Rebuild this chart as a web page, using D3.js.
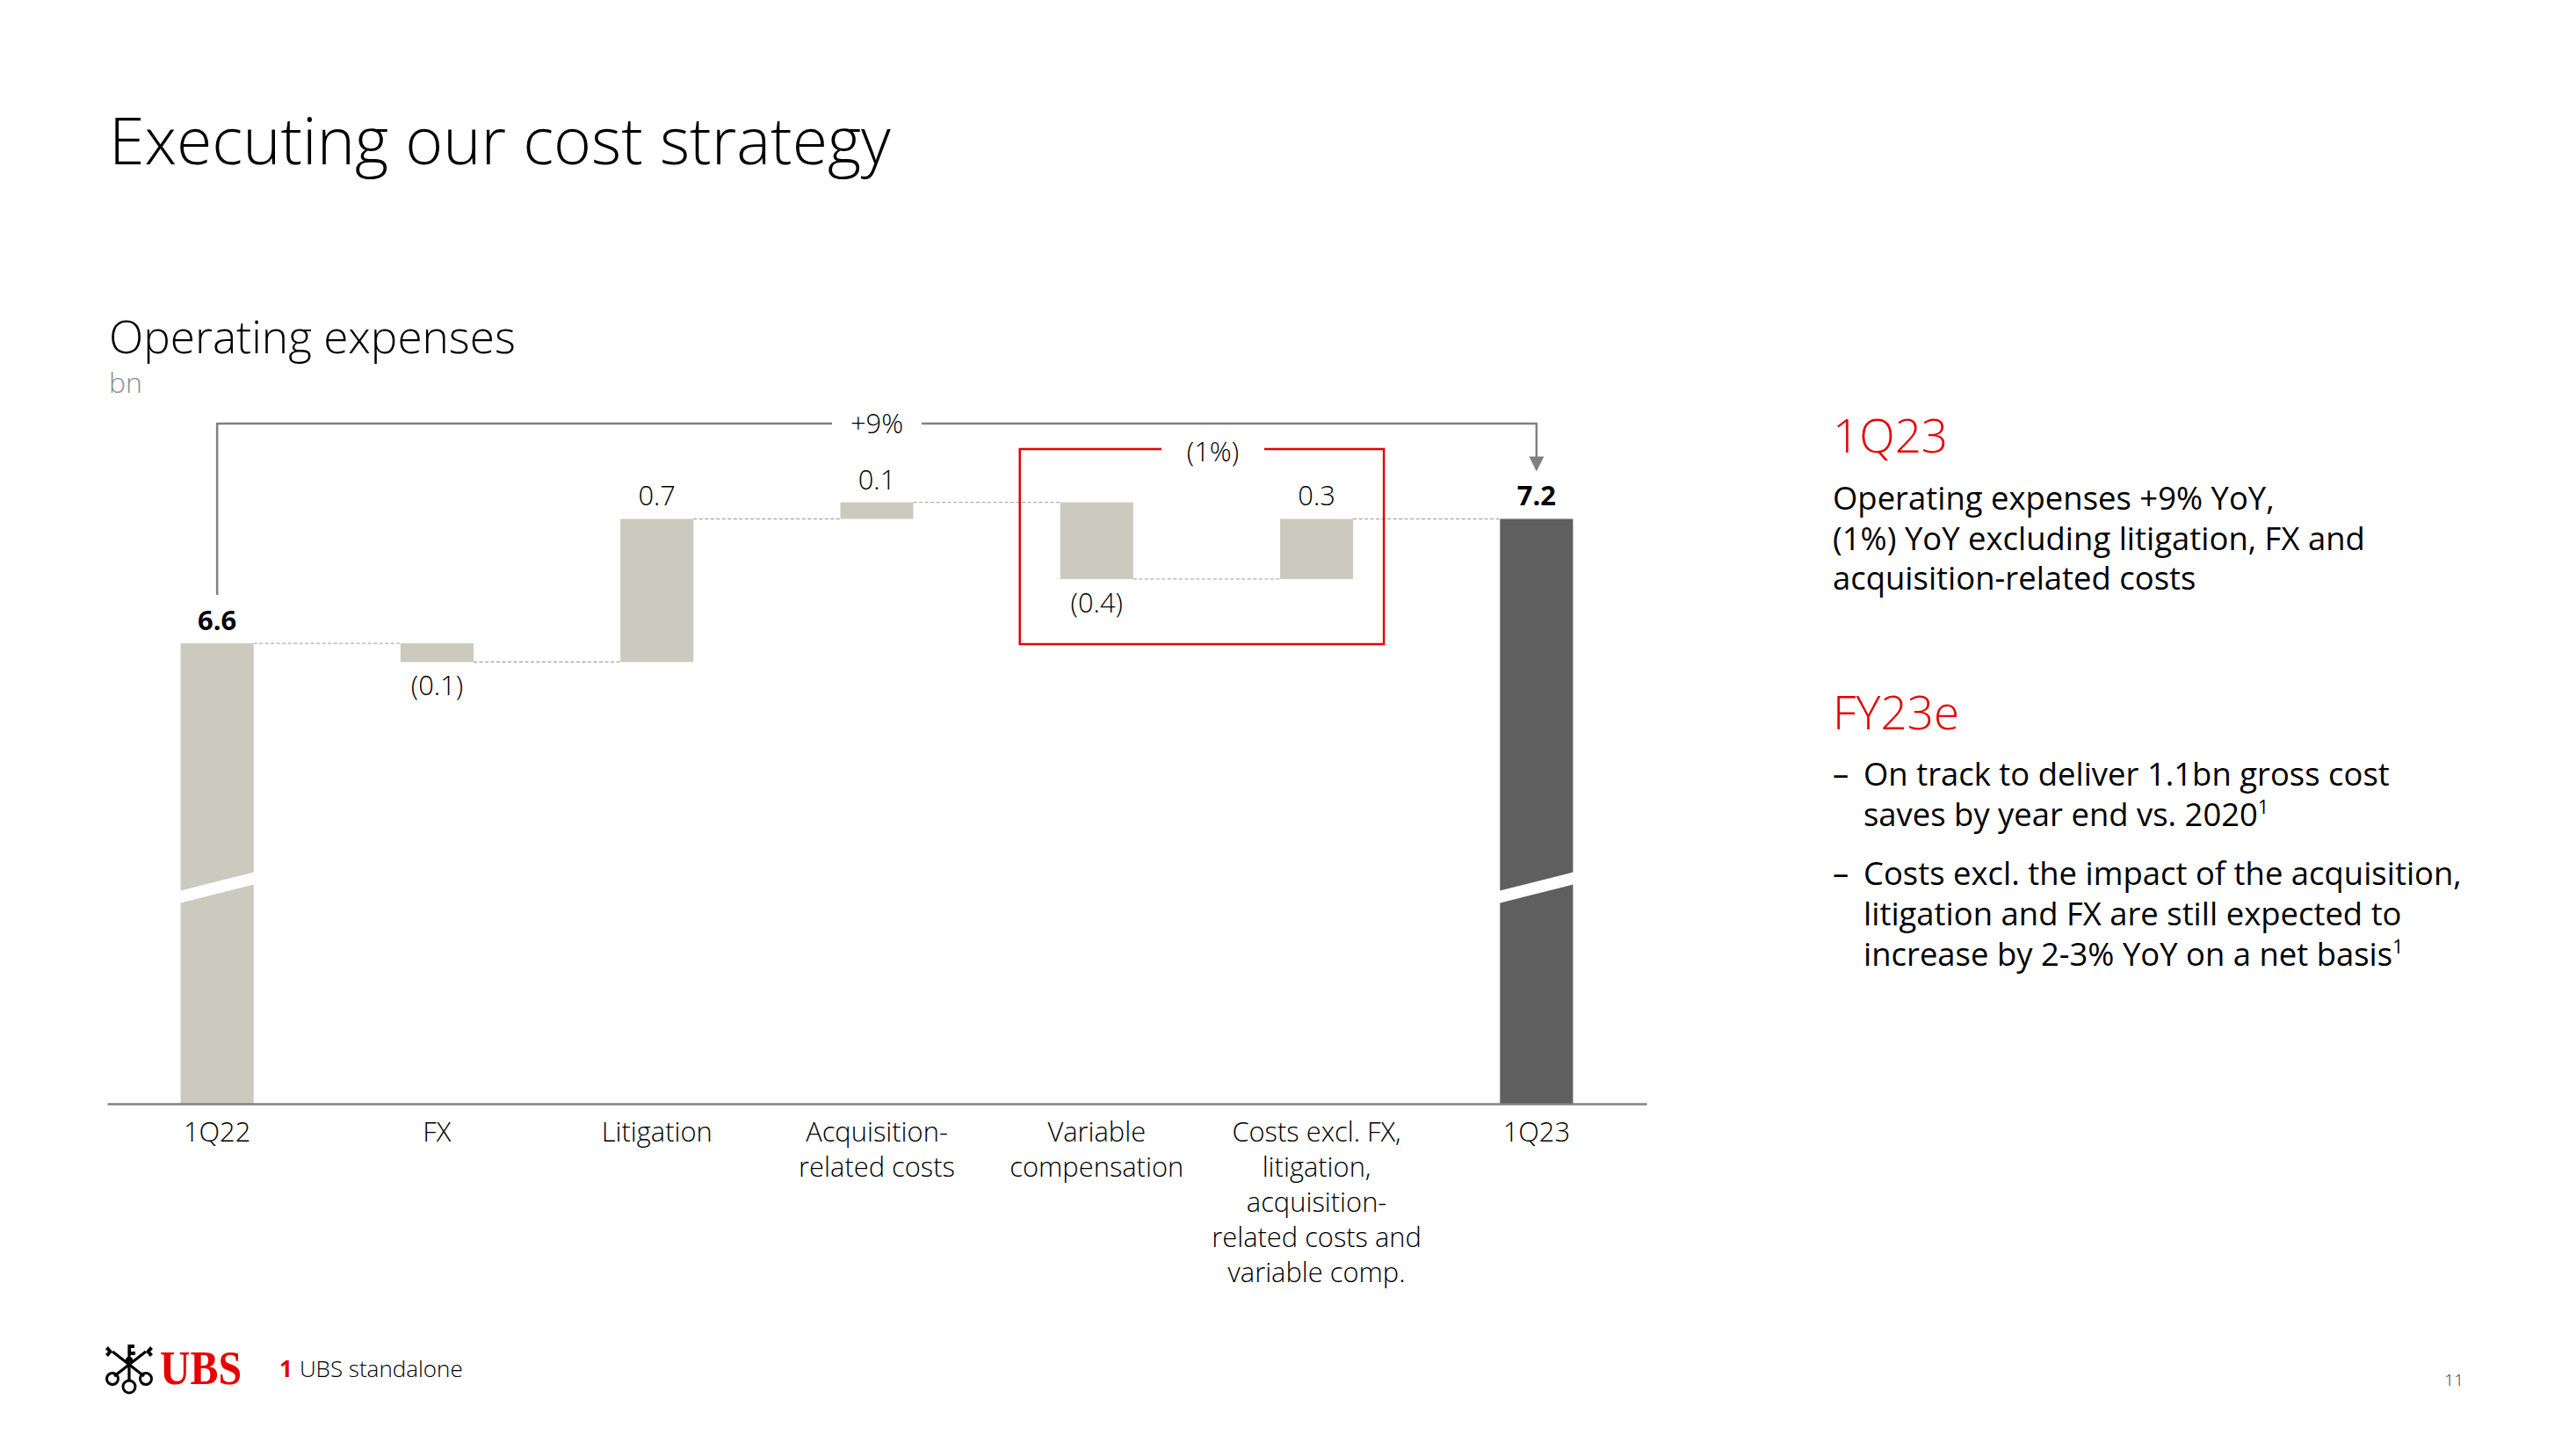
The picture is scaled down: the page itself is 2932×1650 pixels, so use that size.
<!DOCTYPE html>
<html><head><meta charset="utf-8">
<script src="https://cdn.jsdelivr.net/npm/d3@7"></script>
<style>
html,body{margin:0;padding:0;background:#fff;}
svg{display:block;}
svg{font-family:"Open Sans","Noto Sans",sans-serif;}
</style></head><body>
<svg id="chart" width="2932" height="1650"></svg>
<script>
// ---------- data ----------
const categories = [
  ["1Q22"], ["FX"], ["Litigation"], ["Acquisition-", "related costs"],
  ["Variable", "compensation"],
  ["Costs excl. FX,", "litigation,", "acquisition-", "related costs and", "variable comp."],
  ["1Q23"]
];
const barTypes = ["total", "delta", "delta", "delta", "delta", "delta", "total"];
const values = [6.62, -0.09, 0.69, 0.08, -0.37, 0.29, 7.22];
const totalChangeLabel = "+9%";
const subsetChangeLabel = "(1%)";
const subsetIndices = [4, 5];

const titleText = "Executing our cost strategy";
const subtitleText = "Operating expenses";
const unitText = "bn";
const panelHead1 = "1Q23";
const panelBody1 = ["Operating expenses +9% YoY,", "(1%) YoY excluding litigation, FX and", "acquisition-related costs"];
const panelHead2 = "FY23e";
const panelBullets = [
  [["On track to deliver 1.1bn gross cost"], ["saves by year end vs. 2020", "1"]],
  [["Costs excl. the impact of the acquisition,"], ["litigation and FX are still expected to"], ["increase by 2-3% YoY on a net basis", "1"]]
];
const footnoteNum = "1";
const footnoteText = "UBS standalone";
const pageNumber = "11";

// ---------- styles ----------
const RED = "#e60000", BAR = "#cccabe", BAR_DARK = "#5e5f5e", GREY = "#808080";
const svg = d3.select("#chart");

function fit(sel, target) {
  const w = sel.node().getComputedTextLength();
  const fs = parseFloat(sel.attr("font-size"));
  sel.attr("font-size", fs * target / w);
  return fs * target / w;
}
function measureSize(str, weight, target, base) {
  const t = svg.append("text").attr("font-size", base).attr("font-weight", weight).text(str);
  const w = t.node().getComputedTextLength();
  t.remove();
  return base * target / w;
}

// ---------- titles ----------
const title = svg.append("text").attr("x", 124).attr("y", 187).attr("font-size", 72)
  .attr("font-weight", 300).attr("fill", "#000").text(titleText);
fit(title, 890);
const sub = svg.append("text").attr("x", 124).attr("y", 402).attr("font-size", 54)
  .attr("font-weight", 300).attr("fill", "#000").text(subtitleText);
fit(sub, 463);
svg.append("text").attr("x", 124).attr("y", 447).attr("font-size", 32)
  .attr("font-weight", 300).attr("fill", "#8c8c8c").text(unitText);

// ---------- scales ----------
const n = values.length;
const x = d3.scaleBand().domain(d3.range(n)).range([122, 1874])
  .paddingInner(0.668).paddingOuter(0.334);
const bw = x.bandwidth();
const pxPerBn = 236;
const baseY = 1256;
const y = d3.scaleLinear().domain([4.4, 7.4]).range([baseY, baseY - 3.0 * pxPerBn]);
const yMin = y.domain()[0];

// waterfall geometry
let level = 0;
const bars = values.map((v, i) => {
  if (barTypes[i] === "total") {
    level = v;
    return { i, lo: yMin, hi: v, end: v, v, type: "total" };
  }
  const start = level; level += v;
  return { i, lo: Math.min(start, level), hi: Math.max(start, level), end: level, v, type: "delta" };
});

const chartFont = measureSize("compensation", 300, 198, 30);
const fmt = v => { const r = Math.abs(v).toFixed(1); return v < 0 ? `(${r})` : r; };

const g = svg.append("g");

// connectors
g.selectAll("line.conn").data(bars.slice(0, n - 1)).join("line")
  .attr("x1", d => x(d.i) + bw).attr("x2", d => x(d.i + 1))
  .attr("y1", d => y(d.end)).attr("y2", d => y(d.end))
  .attr("stroke", "#b0b0b0").attr("stroke-width", 1.4).attr("stroke-dasharray", "4,2.5");

// bars
g.selectAll("rect.bar").data(bars).join("rect")
  .attr("x", d => x(d.i)).attr("width", bw)
  .attr("y", d => y(d.hi)).attr("height", d => y(d.lo) - y(d.hi))
  .attr("fill", (d, i) => i === n - 1 ? BAR_DARK : BAR);

// axis break marks on total bars
const breakY = 1003, breakRise = 22, breakThick = 14;
g.selectAll("polygon.brk").data(bars.filter(d => d.type === "total")).join("polygon")
  .attr("points", d => {
    const l = x(d.i) - 2, r = x(d.i) + bw + 2;
    const yl = breakY + breakRise / 2, yr = breakY - breakRise / 2;
    return [[l, yl], [r, yr], [r, yr + breakThick], [l, yl + breakThick]].map(p => p.join(",")).join(" ");
  }).attr("fill", "#fff");

// axis
const axis = d3.axisBottom(x).tickSize(0).tickFormat("");
const ax = g.append("g").attr("transform", `translate(0,${baseY})`).call(axis);
ax.select(".domain").attr("stroke", GREY).attr("stroke-width", 2.5);

// category labels
const cl = g.selectAll("text.cat").data(categories).join("text")
  .attr("text-anchor", "middle").attr("font-size", chartFont).attr("font-weight", 300).attr("fill", "#000");
cl.each(function (lines, i) {
  d3.select(this).selectAll("tspan").data(lines).join("tspan")
    .attr("x", x(i) + bw / 2).attr("y", (l, j) => 1299 + j * 40).text(l => l);
});

// value labels
g.selectAll("text.val").data(bars).join("text")
  .attr("text-anchor", "middle").attr("font-size", chartFont)
  .attr("font-weight", d => d.type === "total" ? 700 : 300).attr("fill", "#000")
  .attr("x", d => x(d.i) + bw / 2)
  .attr("y", d => (d.type === "delta" && d.v < 0) ? y(d.lo) + 38 : y(d.hi) - 15)
  .text(d => fmt(d.v));

// total change bracket
const cx0 = x(0) + bw / 2, cx1 = x(n - 1) + bw / 2, bY = 482;
const midX = (cx0 + cx1) / 2, gapHalf = 51;
const tipY = y(values[n - 1]) - 54;
g.append("path").attr("fill", "none").attr("stroke", GREY).attr("stroke-width", 2.5)
  .attr("d", `M${cx0},${y(values[0]) - 55}V${bY}H${midX - gapHalf}`);
g.append("path").attr("fill", "none").attr("stroke", GREY).attr("stroke-width", 2.5)
  .attr("d", `M${midX + gapHalf},${bY}H${cx1}V${tipY - 14}`);
g.append("path").attr("fill", GREY)
  .attr("d", `M${cx1 - 8.5},${tipY - 17}L${cx1 + 8.5},${tipY - 17}L${cx1},${tipY}Z`);
g.append("text").attr("x", midX).attr("y", bY + 11).attr("text-anchor", "middle")
  .attr("font-size", chartFont).attr("font-weight", 300).text(totalChangeLabel);

// subset box
const bxL = x(subsetIndices[0]) - 46, bxR = x(subsetIndices[1]) + bw + 35, bxT = 511, bxB = 733;
const sMid = 1380.5, sGap = 58.5;
g.append("path").attr("fill", "none").attr("stroke", RED).attr("stroke-width", 2.5)
  .attr("d", `M${sMid - sGap},${bxT}H${bxL}V${bxB}H${bxR}V${bxT}H${sMid + sGap}`);
g.append("text").attr("x", sMid).attr("y", bxT + 14).attr("text-anchor", "middle")
  .attr("font-size", chartFont).attr("font-weight", 300).text(subsetChangeLabel);

// ---------- right panel ----------
const px = 2086;
const bodySize = measureSize(panelBody1[1], 400, 606, 38);
const headSize = measureSize(panelHead2, 300, 144, 54);
svg.append("text").attr("x", px).attr("y", 515).attr("font-size", headSize).attr("font-weight", 300)
  .attr("fill", RED).text(panelHead1);
panelBody1.forEach((l, j) => svg.append("text").attr("x", px).attr("y", 580 + j * 45.5)
  .attr("font-size", bodySize).attr("font-weight", 400).attr("fill", "#000").text(l));
svg.append("text").attr("x", px).attr("y", 830).attr("font-size", headSize).attr("font-weight", 300)
  .attr("fill", RED).text(panelHead2);
const bulletY = [[894, 940], [1007, 1053, 1099]];
panelBullets.forEach((lines, b) => {
  svg.append("text").attr("x", px).attr("y", bulletY[b][0]).attr("font-size", bodySize)
    .attr("font-weight", 400).text("–");
  lines.forEach((parts, j) => {
    const t = svg.append("text").attr("x", 2121).attr("y", bulletY[b][j]).attr("font-size", bodySize)
      .attr("font-weight", 400).attr("fill", "#000");
    t.append("tspan").text(parts[0]);
    if (parts[1]) t.append("tspan").attr("font-size", bodySize * 0.58).attr("dy", -bodySize * 0.38).text(parts[1]);
  });
});

// ---------- footer ----------
const logo = svg.append("g").attr("stroke", "#000").attr("fill", "none").attr("stroke-width", 3.2);
logo.append("line").attr("x1", 147).attr("y1", 1530).attr("x2", 147).attr("y2", 1572);
logo.append("path").attr("fill", "#000").attr("stroke", "none")
  .attr("d", "M147,1530h6v4h-4v4h5v4h-7z");
logo.append("circle").attr("cx", 147).attr("cy", 1578).attr("r", 7).attr("stroke-width", 3);
logo.append("line").attr("x1", 130).attr("y1", 1566).attr("x2", 166).attr("y2", 1538);
logo.append("line").attr("x1", 164).attr("y1", 1566).attr("x2", 128).attr("y2", 1538);
logo.append("path").attr("fill", "#000").attr("stroke", "none")
  .attr("d", "M166,1538l5,-6l3,3l-3,3l3,3l-3,3z M128,1538l-5,-6l-3,3l3,3l-3,3l3,3z");
logo.append("circle").attr("cx", 128).attr("cy", 1569).attr("r", 6.5).attr("stroke-width", 3);
logo.append("circle").attr("cx", 166).attr("cy", 1569).attr("r", 6.5).attr("stroke-width", 3);
logo.append("circle").attr("cx", 147).attr("cy", 1548).attr("r", 2.5).attr("fill", "#000");

const ubs = svg.append("text").attr("x", 182).attr("y", 1575).attr("font-size", 54)
  .style("font-family", "'Liberation Serif','DejaVu Serif',serif").attr("font-weight", 700)
  .attr("fill", RED).text("UBS");
{
  const w = ubs.node().getComputedTextLength();
  ubs.attr("transform", `translate(182,0) scale(${93 / w},1) translate(-182,0)`);
}
const fn = svg.append("text").attr("x", 318).attr("y", 1567).attr("font-size", 26).attr("font-weight", 300);
fn.append("tspan").attr("fill", RED).attr("font-weight", 700).text(footnoteNum);
fn.append("tspan").attr("dx", 8).attr("fill", "#000").text(footnoteText);
svg.append("text").attr("x", 2804).attr("y", 1577).attr("text-anchor", "end").attr("font-size", 19)
  .attr("font-weight", 300).attr("fill", "#333").text(pageNumber);
</script>
</body></html>
